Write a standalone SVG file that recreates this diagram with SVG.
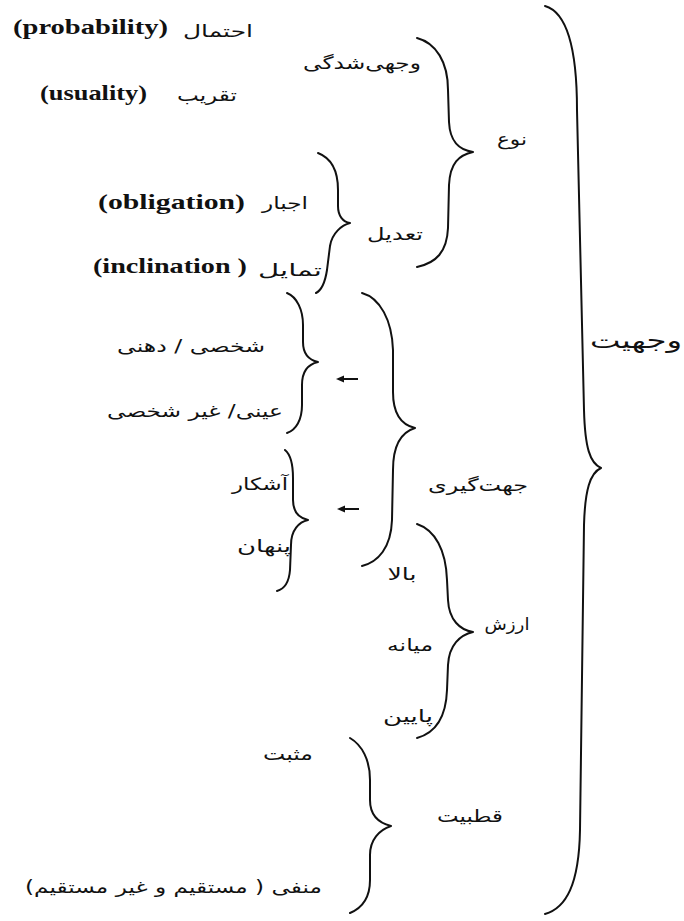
<svg xmlns="http://www.w3.org/2000/svg" width="684" height="921" viewBox="0 0 684 921">
  <style>
    .en { font-family: "Liberation Serif", "Times New Roman", serif; font-weight: bold; font-size: 22px; fill: #111; }
    .fa { font-family: "DejaVu Sans", "Noto Sans", sans-serif; font-size: 17px; fill: #111; direction: rtl; }
    .big { font-size: 22px; }
    .br { fill: none; stroke: #111; stroke-width: 2; stroke-linecap: round; stroke-linejoin: round; }
    .ar { fill: none; stroke: #111; stroke-width: 2; }
  </style>
  <defs>
    <marker id="head" viewBox="0 0 8 8" refX="2" refY="4" markerWidth="8" markerHeight="8" markerUnits="userSpaceOnUse" orient="auto">
      <path d="M0,0.5 L8,4 L0,7.5 z" fill="#111"/>
    </marker>
  </defs>
  <rect width="684" height="921" fill="#fff"/>

  <!-- braces and arrows -->
  <g id="connectors">
    <path id="brace-vajhiyat" class="br" d="M545,6 C566,12 577,45 577,110 L584,410 C585,448 590,463 601,468 C590,473 585,490 584,525 L580,830 C579,885 566,908 545,914"/>
    <path id="brace-noe" class="br" d="M417,38 C436,43 448,62 448,90 L449,122 C450,142 459,150 473,152 C459,155 450,163 449,185 L448,228 C447,252 436,263 417,267"/>
    <path id="brace-tadil" class="br" d="M318,153 C331,158 338,171 338,190 L338,206 C338,216 343,222 350,223 C342,225 332,233 330,246 L327,270 C325,283 322,290 316,293"/>
    <path id="brace-shakhsi" class="br" d="M287,293 C297,297 303,310 303,325 L303,342 C303,355 309,360 318,362 C309,364 302,371 302,385 L302,405 C302,420 296,430 287,433"/>
    <path id="brace-jahatgiri" class="br" d="M362,293 C380,298 392,320 393,350 L393,392 C393,414 402,425 415,428 C402,432 393,445 393,470 L392,520 C391,548 378,562 362,566"/>
    <path id="brace-ashkar" class="br" d="M285,450 C291,455 293,465 293,478 L293,500 C293,512 299,518 308,520 C299,522 291,530 291,545 L290,570 C289,583 284,589 277,591"/>
    <path id="brace-arzesh" class="br" d="M417,524 C435,530 446,550 447,580 L448,600 C449,620 460,630 473,632 C460,635 449,645 448,665 L447,690 C446,718 435,733 417,738"/>
    <path id="brace-ghotbiyat" class="br" d="M350,738 C362,745 370,760 370,780 L370,800 C370,815 379,823 391,826 C379,830 370,840 370,855 L370,880 C370,898 362,908 350,913"/>
    <path id="arrow-1" class="ar" d="M358,379 L342,379" marker-end="url(#head)"/>
    <path id="arrow-2" class="ar" d="M359,509 L343,509" marker-end="url(#head)"/>
  </g>

  <g id="vajhiyat"><text class="fa big" x="636" y="348" text-anchor="middle" textLength="92" lengthAdjust="spacingAndGlyphs">وجهیت</text></g>

  <g id="noe"><text class="fa" x="512" y="145" text-anchor="middle" textLength="30" lengthAdjust="spacingAndGlyphs">نوع</text></g>
  <g id="vajhishodegi"><text class="fa" x="362" y="69" text-anchor="middle" textLength="118" lengthAdjust="spacingAndGlyphs">وجهی&#x200C;شدگی</text></g>
  <g id="ehtemal">
    <text class="fa" x="218" y="37" text-anchor="middle" textLength="70" lengthAdjust="spacingAndGlyphs">احتمال</text>
    <text class="en" x="90.5" y="34" text-anchor="middle" textLength="155" lengthAdjust="spacingAndGlyphs">(probability)</text>
  </g>
  <g id="taghrib">
    <text class="fa" x="207" y="101" text-anchor="middle" textLength="60" lengthAdjust="spacingAndGlyphs">تقریب</text>
    <text class="en" x="93.5" y="100" text-anchor="middle" textLength="107" lengthAdjust="spacingAndGlyphs">(usuality)</text>
  </g>
  <g id="tadil"><text class="fa" x="395" y="240" text-anchor="middle" textLength="56" lengthAdjust="spacingAndGlyphs">تعدیل</text></g>
  <g id="ejbar">
    <text class="fa" x="285" y="209" text-anchor="middle" textLength="46" lengthAdjust="spacingAndGlyphs">اجبار</text>
    <text class="en" x="171.5" y="209" text-anchor="middle" textLength="147" lengthAdjust="spacingAndGlyphs">(obligation)</text>
  </g>
  <g id="tamayol">
    <text class="fa" x="290" y="276" text-anchor="middle" textLength="64" lengthAdjust="spacingAndGlyphs">تمایل</text>
    <text class="en" x="170" y="273" text-anchor="middle" textLength="154" lengthAdjust="spacingAndGlyphs">(inclination )</text>
  </g>

  <g id="jahatgiri"><text class="fa" x="478" y="491" text-anchor="middle" textLength="100" lengthAdjust="spacingAndGlyphs">جهت&#x200C;گیری</text></g>
  <g id="shakhsi"><text class="fa" x="191" y="352" text-anchor="middle" textLength="148" lengthAdjust="spacingAndGlyphs">شخصی / دهنی</text></g>
  <g id="eyni"><text class="fa" x="195" y="417" text-anchor="middle" textLength="176" lengthAdjust="spacingAndGlyphs">عینی/ غیر شخصی</text></g>
  <g id="ashkar"><text class="fa" x="260" y="490" text-anchor="middle" textLength="56" lengthAdjust="spacingAndGlyphs">آشکار</text></g>
  <g id="penhan"><text class="fa" x="264" y="552" text-anchor="middle" textLength="54" lengthAdjust="spacingAndGlyphs">پنهان</text></g>

  <g id="arzesh"><text class="fa" x="507" y="630" text-anchor="middle" textLength="45" lengthAdjust="spacingAndGlyphs">ارزش</text></g>
  <g id="bala"><text class="fa" x="402" y="580" text-anchor="middle" textLength="29" lengthAdjust="spacingAndGlyphs">بالا</text></g>
  <g id="miyaneh"><text class="fa" x="410" y="651" text-anchor="middle" textLength="46" lengthAdjust="spacingAndGlyphs">میانه</text></g>
  <g id="payin"><text class="fa" x="408" y="722" text-anchor="middle" textLength="50" lengthAdjust="spacingAndGlyphs">پایین</text></g>

  <g id="ghotbiyat"><text class="fa" x="470" y="822" text-anchor="middle" textLength="66" lengthAdjust="spacingAndGlyphs">قطبیت</text></g>
  <g id="mosbat"><text class="fa" x="288" y="760" text-anchor="middle" textLength="50" lengthAdjust="spacingAndGlyphs">مثبت</text></g>
  <g id="manfi"><text class="fa" x="173.5" y="893" text-anchor="middle" textLength="297" lengthAdjust="spacingAndGlyphs">منفی ( مستقیم و غیر مستقیم)</text></g>
</svg>
